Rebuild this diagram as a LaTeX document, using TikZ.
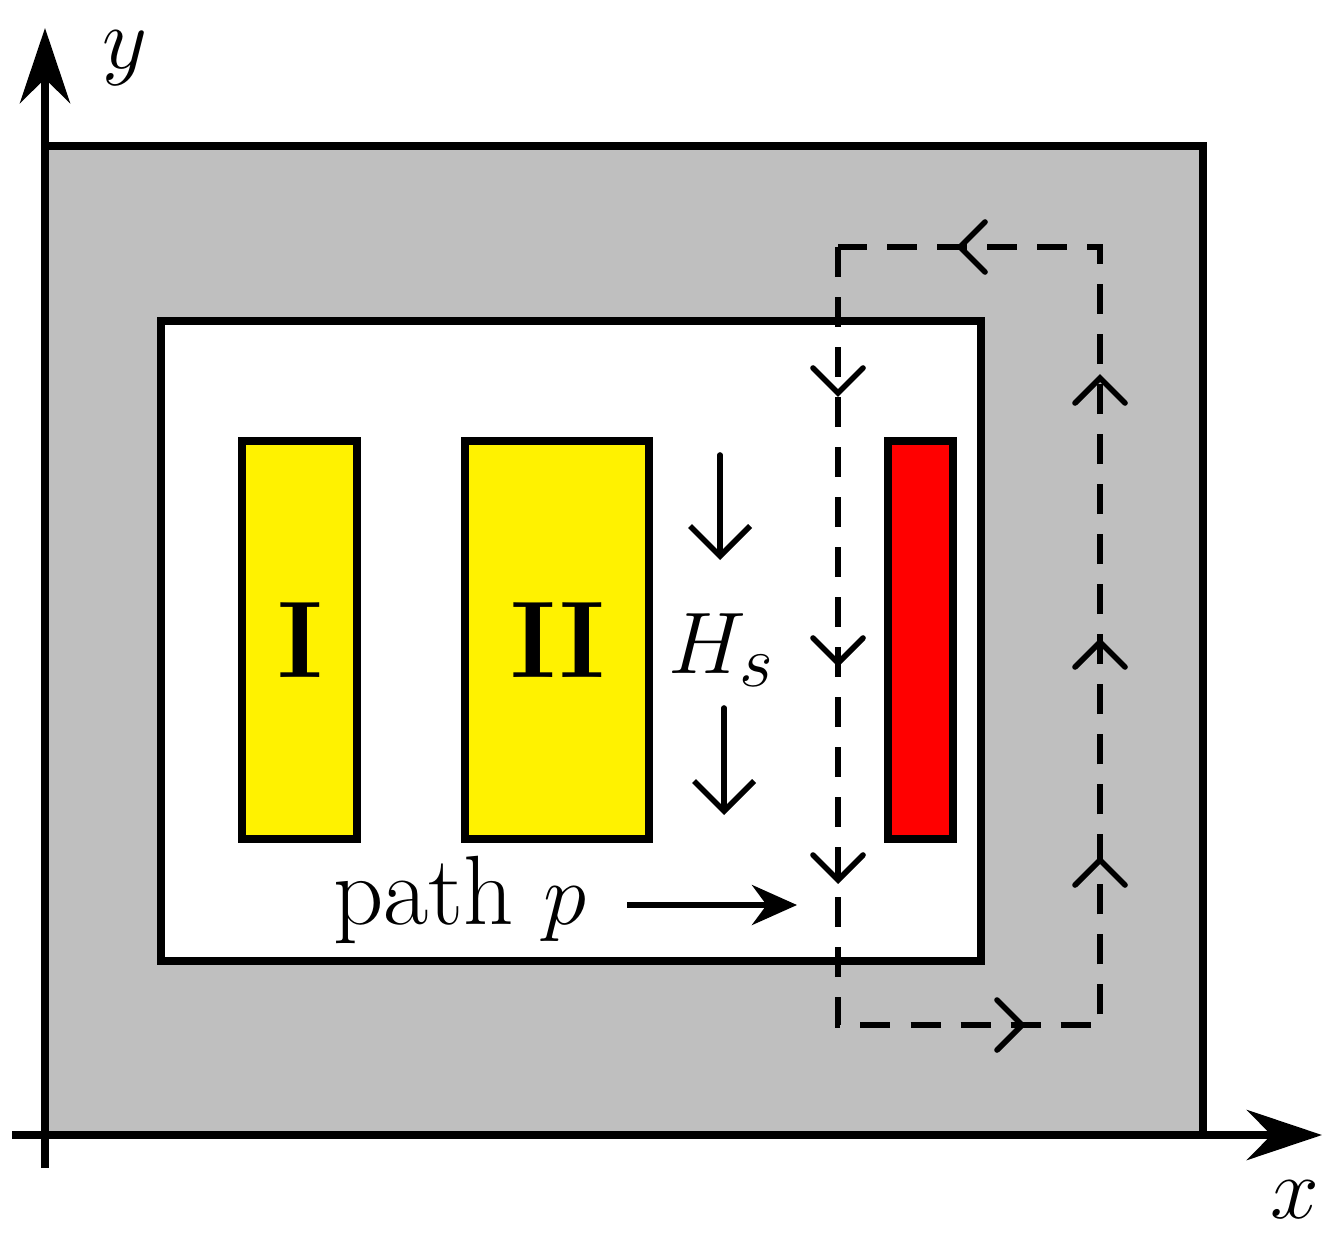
\documentclass[tikz,border=0pt]{standalone}
\usetikzlibrary{arrows.meta}
\begin{document}
\begin{tikzpicture}[x=0.01cm,y=-0.01cm,
  box/.style={line width=2.4pt},
  dsh/.style={line width=1.5pt,dash pattern=on 30\pgflinewidth off 0pt,dash pattern=on 0.3cm off 0.2cm},
  chev/.style={line width=1.6pt,line cap=round,line join=miter},
  big/.style={font=\fontsize{28}{34}\selectfont}]
\useasboundingbox (0,0) rectangle (1343,1252);
\draw[box,fill=black!25] (45,146) rectangle (1203,1135);
\draw[box,fill=white] (161,321) rectangle (981,961);
\draw[box,fill=yellow] (242,441) rectangle (357,839);
\draw[box,fill=yellow] (465,441) rectangle (649,839);
\draw[box,fill=red] (888,441) rectangle (953,839);
\node[big,font=\fontsize{31}{36}\selectfont\bfseries] (l1) at (300,640) {I};
\node[big,font=\fontsize{31}{36}\selectfont\bfseries] (l2) at (558,640) {II};
% axes
\draw[box,-{Stealth[length=0.75cm,width=0.5cm]}] (12,1135) -- (1322,1135);
\draw[box,-{Stealth[length=0.75cm,width=0.5cm]}] (45,1168) -- (45,28);
\node[big] (ly) at (125,58) {$y$};
\node[big] (lx) at (1295,1200) {$x$};
% dashed loop
\draw[dsh] (838,247) -- (838,1025) -- (1100,1025) -- (1100,247) -- cycle;
\foreach \y in {393,663,880} \draw[chev] (813,368+\y-393) -- (838,\y) -- (863,368+\y-393);
\foreach \y in {378,642,860} \draw[chev] (1075,\y+25) -- (1100,\y) -- (1125,\y+25);
\draw[chev] (997,1000) -- (1022,1025) -- (997,1050);
\draw[chev] (985,222) -- (960,247) -- (985,272);
% H_s
\coordinate (h1a) at (720,455); \coordinate (h1b) at (720,560);
\coordinate (h2a) at (724,708); \coordinate (h2b) at (724,815);
\draw[chev,-{Straight Barb[length=0.3cm,width=0.6cm]}] (h1a) -- (h1b);
\draw[chev,-{Straight Barb[length=0.3cm,width=0.6cm]}] (h2a) -- (h2b);
\node[big] (hs) at (722,650) {$H_s$};
% path p
\node[big] (pp) at (460,900) {path $p$};
\coordinate (pa) at (627,905); \coordinate (pb) at (797,905);
\draw[line width=1.6pt,-{Stealth[length=0.45cm,width=0.4cm]}] (pa) -- (pb);
\end{tikzpicture}
\end{document}
